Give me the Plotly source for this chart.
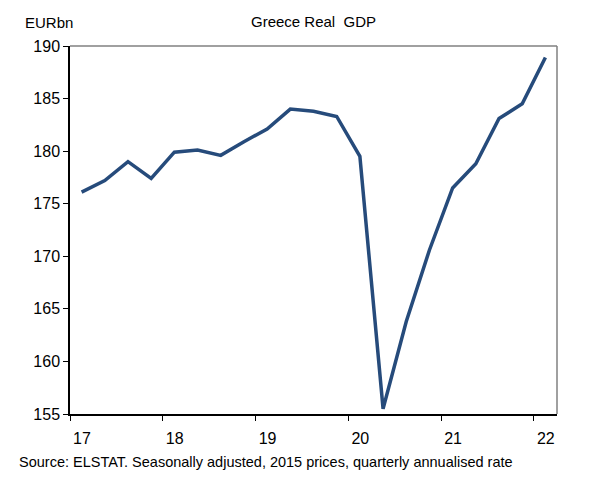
import plotly.graph_objects as go

quarters = ["17Q1","17Q2","17Q3","17Q4","18Q1","18Q2","18Q3","18Q4",
            "19Q1","19Q2","19Q3","19Q4","20Q1","20Q2","20Q3","20Q4",
            "21Q1","21Q2","21Q3","21Q4","22Q1"]
gdp = [176.1, 177.2, 179.0, 177.4, 179.9, 180.1, 179.6, 180.9,
       182.1, 184.0, 183.8, 183.3, 179.5, 155.5, 163.8, 170.6,
       176.5, 178.8, 183.1, 184.5, 188.9]
year_ticks = [17, 18, 19, 20, 21, 22]
y_ticks = [155, 160, 165, 170, 175, 180, 185, 190]

# quarter midpoints on a year scale (e.g. 17Q1 -> 17.125)
xpos = [int(q[:2]) + (int(q[3]) - 0.5) / 4 for q in quarters]

fig = go.Figure()
fig.add_trace(go.Scatter(x=xpos, y=gdp, mode="lines",
                         line=dict(color="#264b7b", width=3.5),
                         hoverinfo="skip", showlegend=False))

font = "Liberation Sans, Arial, sans-serif"
# page body has an 8px margin, so the figure is 8px smaller than the window
fig.update_layout(
    width=583, height=474,
    margin=dict(l=62, r=34, t=38, b=68),
    paper_bgcolor="white", plot_bgcolor="white",
    font=dict(family=font, color="black"),
    xaxis=dict(range=[17, 22.25], tickvals=year_ticks,
               ticktext=[str(t) for t in year_ticks],
               showgrid=False, zeroline=False,
               showline=True, linecolor="black", linewidth=1.5,
               ticks="outside", ticklen=5, tickcolor="black",
               ticklabelshift=12, ticklabelstandoff=4,
               tickfont=dict(size=16, family=font), fixedrange=True),
    yaxis=dict(range=[155, 190], tickvals=y_ticks,
               showgrid=False, zeroline=False,
               showline=True, linecolor="black", linewidth=1.5,
               ticks="outside", ticklen=5, tickcolor="black",
               tickfont=dict(size=16, family=font), fixedrange=True),
    shapes=[
        dict(type="line", xref="paper", yref="paper", x0=0, x1=1, y0=1, y1=1,
             line=dict(color="#808080", width=1.5)),
        dict(type="line", xref="paper", yref="paper", x0=1, x1=1, y0=0, y1=1,
             line=dict(color="#808080", width=1.5)),
    ],
    annotations=[
        dict(text="Greece Real  GDP", xref="paper", yref="paper",
             x=0.5, y=1, yshift=25, xanchor="center", yanchor="middle",
             showarrow=False, font=dict(size=15, family=font)),
        dict(text="EURbn", xref="paper", yref="paper",
             x=-47 / 487, y=1, yshift=24, xanchor="left", yanchor="middle",
             showarrow=False, font=dict(size=15, family=font)),
        dict(text="Source: ELSTAT. Seasonally adjusted, 2015 prices, quarterly annualised rate",
             xref="paper", yref="paper", x=-53 / 487, y=0, yshift=-48,
             xanchor="left", yanchor="middle",
             showarrow=False, font=dict(size=14.5, family=font)),
    ],
)

fig.write_html("out.html")
